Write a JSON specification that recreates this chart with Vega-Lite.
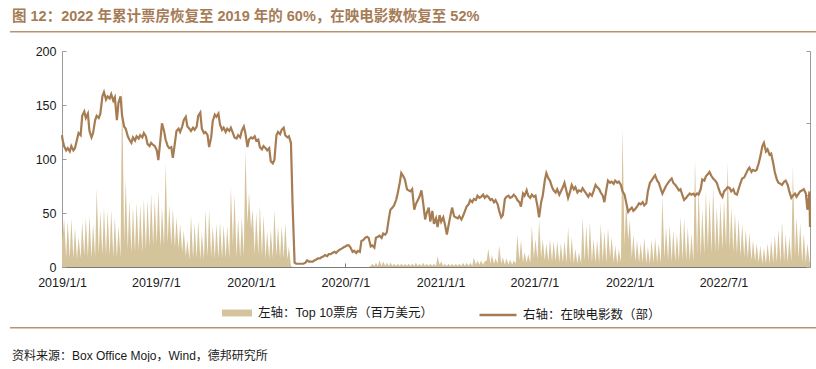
{
"$schema": "https://vega.github.io/schema/vega-lite/v6.json",
"padding": {"left": 10, "top": 8, "right": 0, "bottom": 0},
"background": "white",
"config": {
  "font": "Liberation Sans, Noto Sans CJK SC",
  "view": {"stroke": null},
  "axis": {"grid": false, "labelFont": "Liberation Sans, Noto Sans CJK SC", "labelColor": "#1a1a1a", "labelFontSize": 12.5},
  "legend": {"padding": 0}
},
"columns": 1,
"spacing": {"row": 5, "column": 0},
"concat": [
  {
    "columns": 1,
    "spacing": {"row": 12, "column": 0},
    "concat": [
      {
        "width": 806, "height": 1.6,
        "view": {"fill": "#b8956e", "stroke": null},
        "title": {"text": "图 12：2022 年累计票房恢复至 2019 年的 60%，在映电影数恢复至 52%", "anchor": "start", "frame": "group", "offset": 7, "dx": 2, "fontSize": 14.5, "fontWeight": "bold", "color": "#a57c55"},
        "data": {"values": []},
        "mark": {"type": "text"},
        "encoding": {}
      },
      {
        "width": 800, "height": 216,
        "data": {"values": [
{"d":"2019/1/1","b":53,"f":122},{"d":"2019/1/2","b":25,"f":118},{"d":"2019/1/5","b":45,"f":112},{"d":"2019/1/9","b":9,"f":108},{"d":"2019/1/12","b":43,"f":110},{"d":"2019/1/16","b":8,"f":107},{"d":"2019/1/19","b":45,"f":112},{"d":"2019/1/23","b":8,"f":108},{"d":"2019/1/26","b":36,"f":110},{"d":"2019/1/30","b":7,"f":118},{"d":"2019/2/2","b":28,"f":124},{"d":"2019/2/6","b":8,"f":122},{"d":"2019/2/9","b":42,"f":140},{"d":"2019/2/13","b":10,"f":144},{"d":"2019/2/16","b":46,"f":138},{"d":"2019/2/20","b":9,"f":142},{"d":"2019/2/23","b":48,"f":126},{"d":"2019/2/27","b":8,"f":120},{"d":"2019/3/2","b":40,"f":124},{"d":"2019/3/6","b":9,"f":136},{"d":"2019/3/9","b":73,"f":140},{"d":"2019/3/13","b":12,"f":138},{"d":"2019/3/16","b":52,"f":142},{"d":"2019/3/20","b":11,"f":158},{"d":"2019/3/23","b":55,"f":162},{"d":"2019/3/27","b":11,"f":155},{"d":"2019/3/30","b":52,"f":158},{"d":"2019/4/3","b":10,"f":156},{"d":"2019/4/6","b":53,"f":160},{"d":"2019/4/10","b":9,"f":154},{"d":"2019/4/13","b":46,"f":157},{"d":"2019/4/17","b":9,"f":136},{"d":"2019/4/20","b":38,"f":152},{"d":"2019/4/24","b":9,"f":158},{"d":"2019/4/27","b":170,"f":140},{"d":"2019/5/1","b":22,"f":130},{"d":"2019/5/4","b":81,"f":128},{"d":"2019/5/8","b":16,"f":121},{"d":"2019/5/11","b":62,"f":118},{"d":"2019/5/15","b":13,"f":115},{"d":"2019/5/18","b":55,"f":120},{"d":"2019/5/22","b":14,"f":117},{"d":"2019/5/25","b":60,"f":121},{"d":"2019/5/29","b":15,"f":119},{"d":"2019/6/1","b":58,"f":122},{"d":"2019/6/5","b":14,"f":120},{"d":"2019/6/8","b":63,"f":124},{"d":"2019/6/12","b":16,"f":121},{"d":"2019/6/15","b":62,"f":114},{"d":"2019/6/19","b":18,"f":112},{"d":"2019/6/22","b":68,"f":115},{"d":"2019/6/26","b":20,"f":113},{"d":"2019/6/29","b":63,"f":112},{"d":"2019/7/3","b":22,"f":108},{"d":"2019/7/6","b":71,"f":99},{"d":"2019/7/10","b":18,"f":118},{"d":"2019/7/13","b":55,"f":133},{"d":"2019/7/17","b":20,"f":126},{"d":"2019/7/20","b":96,"f":118},{"d":"2019/7/24","b":22,"f":112},{"d":"2019/7/27","b":58,"f":110},{"d":"2019/7/31","b":20,"f":111},{"d":"2019/8/3","b":54,"f":101},{"d":"2019/8/7","b":18,"f":115},{"d":"2019/8/10","b":46,"f":126},{"d":"2019/8/14","b":17,"f":128},{"d":"2019/8/17","b":40,"f":125},{"d":"2019/8/21","b":14,"f":130},{"d":"2019/8/24","b":34,"f":136},{"d":"2019/8/28","b":10,"f":139},{"d":"2019/8/31","b":25,"f":130},{"d":"2019/9/4","b":7,"f":128},{"d":"2019/9/7","b":48,"f":126},{"d":"2019/9/11","b":8,"f":129},{"d":"2019/9/14","b":40,"f":127},{"d":"2019/9/18","b":8,"f":130},{"d":"2019/9/21","b":43,"f":140},{"d":"2019/9/25","b":7,"f":143},{"d":"2019/9/28","b":32,"f":128},{"d":"2019/10/2","b":7,"f":124},{"d":"2019/10/5","b":53,"f":125},{"d":"2019/10/9","b":9,"f":122},{"d":"2019/10/12","b":53,"f":111},{"d":"2019/10/16","b":9,"f":120},{"d":"2019/10/19","b":38,"f":135},{"d":"2019/10/23","b":8,"f":141},{"d":"2019/10/26","b":40,"f":139},{"d":"2019/10/30","b":8,"f":142},{"d":"2019/11/2","b":42,"f":132},{"d":"2019/11/6","b":8,"f":127},{"d":"2019/11/9","b":39,"f":129},{"d":"2019/11/13","b":8,"f":125},{"d":"2019/11/16","b":38,"f":128},{"d":"2019/11/20","b":8,"f":126},{"d":"2019/11/23","b":74,"f":129},{"d":"2019/11/27","b":20,"f":124},{"d":"2019/11/30","b":67,"f":120},{"d":"2019/12/4","b":9,"f":119},{"d":"2019/12/7","b":45,"f":122},{"d":"2019/12/11","b":9,"f":120},{"d":"2019/12/14","b":46,"f":126},{"d":"2019/12/18","b":10,"f":130},{"d":"2019/12/21","b":108,"f":124},{"d":"2019/12/25","b":40,"f":111},{"d":"2019/12/28","b":69,"f":118},
{"d":"2020/1/1","b":35,"f":120},{"d":"2020/1/4","b":54,"f":119},{"d":"2020/1/8","b":12,"f":121},{"d":"2020/1/11","b":51,"f":117},{"d":"2020/1/15","b":11,"f":118},{"d":"2020/1/18","b":57,"f":111},{"d":"2020/1/22","b":10,"f":109},{"d":"2020/1/25","b":48,"f":112},{"d":"2020/1/29","b":8,"f":110},{"d":"2020/2/1","b":33,"f":108},{"d":"2020/2/5","b":7,"f":110},{"d":"2020/2/8","b":35,"f":98},{"d":"2020/2/12","b":8,"f":96},{"d":"2020/2/15","b":53,"f":99},{"d":"2020/2/19","b":10,"f":122},{"d":"2020/2/22","b":38,"f":125},{"d":"2020/2/26","b":8,"f":123},{"d":"2020/2/29","b":38,"f":127},{"d":"2020/3/4","b":8,"f":129},{"d":"2020/3/7","b":41,"f":122},{"d":"2020/3/11","b":7,"f":120},{"d":"2020/3/14","b":19,"f":121},{"d":"2020/3/18","b":1,"f":115},{"d":"2020/3/21","b":0,"f":60},{"d":"2020/3/25","b":0,"f":4},{"d":"2020/3/28","b":0,"f":3},{"d":"2020/4/1","b":0,"f":3},{"d":"2020/4/4","b":0,"f":3},{"d":"2020/4/8","b":0,"f":3},{"d":"2020/4/11","b":0,"f":3},{"d":"2020/4/15","b":0,"f":4},{"d":"2020/4/18","b":0,"f":6},{"d":"2020/4/22","b":0,"f":5},{"d":"2020/4/25","b":0,"f":5},{"d":"2020/4/29","b":0,"f":5},{"d":"2020/5/2","b":0,"f":6},{"d":"2020/5/6","b":0,"f":7},{"d":"2020/5/9","b":0,"f":8},{"d":"2020/5/13","b":0,"f":8},{"d":"2020/5/16","b":0,"f":9},{"d":"2020/5/20","b":0,"f":10},{"d":"2020/5/23","b":0,"f":11},{"d":"2020/5/27","b":0,"f":10},{"d":"2020/5/30","b":0,"f":12},{"d":"2020/6/3","b":0,"f":12},{"d":"2020/6/6","b":0,"f":13},{"d":"2020/6/10","b":0,"f":14},{"d":"2020/6/13","b":0,"f":13},{"d":"2020/6/17","b":0,"f":15},{"d":"2020/6/20","b":0,"f":16},{"d":"2020/6/24","b":0,"f":17},{"d":"2020/6/27","b":0,"f":18},{"d":"2020/7/1","b":0,"f":19},{"d":"2020/7/4","b":0,"f":20},{"d":"2020/7/8","b":0,"f":20},{"d":"2020/7/11","b":0,"f":18},{"d":"2020/7/15","b":0,"f":14},{"d":"2020/7/18","b":0,"f":15},{"d":"2020/7/22","b":0,"f":13},{"d":"2020/7/25","b":0,"f":15},{"d":"2020/7/29","b":0,"f":14},{"d":"2020/8/1","b":0,"f":24},{"d":"2020/8/5","b":0,"f":25},{"d":"2020/8/8","b":0,"f":27},{"d":"2020/8/12","b":0,"f":28},{"d":"2020/8/15","b":0,"f":27},{"d":"2020/8/19","b":1,"f":19},{"d":"2020/8/22","b":3,"f":20},{"d":"2020/8/26","b":1,"f":18},{"d":"2020/8/29","b":4,"f":27},{"d":"2020/9/2","b":1,"f":28},{"d":"2020/9/5","b":6,"f":29},{"d":"2020/9/9","b":1,"f":27},{"d":"2020/9/12","b":5,"f":31},{"d":"2020/9/16","b":1,"f":30},{"d":"2020/9/19","b":4,"f":32},{"d":"2020/9/23","b":1,"f":45},{"d":"2020/9/26","b":4,"f":53},{"d":"2020/9/30","b":1,"f":55},{"d":"2020/10/3","b":3,"f":57},{"d":"2020/10/7","b":1,"f":62},{"d":"2020/10/10","b":3,"f":68},{"d":"2020/10/14","b":1,"f":78},{"d":"2020/10/17","b":3,"f":87},{"d":"2020/10/21","b":1,"f":84},{"d":"2020/10/24","b":3,"f":81},{"d":"2020/10/28","b":1,"f":72},{"d":"2020/10/31","b":3,"f":71},{"d":"2020/11/4","b":1,"f":70},{"d":"2020/11/7","b":3,"f":72},{"d":"2020/11/11","b":1,"f":53},{"d":"2020/11/14","b":4,"f":58},{"d":"2020/11/18","b":1,"f":62},{"d":"2020/11/21","b":3,"f":65},{"d":"2020/11/25","b":1,"f":71},{"d":"2020/11/28","b":4,"f":60},{"d":"2020/12/2","b":1,"f":44},{"d":"2020/12/5","b":3,"f":50},{"d":"2020/12/9","b":1,"f":55},{"d":"2020/12/12","b":3,"f":42},{"d":"2020/12/16","b":1,"f":52},{"d":"2020/12/19","b":3,"f":40},{"d":"2020/12/23","b":1,"f":45},{"d":"2020/12/26","b":10,"f":37},{"d":"2020/12/30","b":2,"f":48},
{"d":"2021/1/2","b":5,"f":42},{"d":"2021/1/6","b":1,"f":46},{"d":"2021/1/9","b":3,"f":40},{"d":"2021/1/13","b":1,"f":30},{"d":"2021/1/16","b":3,"f":38},{"d":"2021/1/20","b":1,"f":48},{"d":"2021/1/23","b":3,"f":55},{"d":"2021/1/27","b":1,"f":47},{"d":"2021/1/30","b":3,"f":46},{"d":"2021/2/3","b":1,"f":45},{"d":"2021/2/6","b":3,"f":47},{"d":"2021/2/10","b":1,"f":44},{"d":"2021/2/13","b":4,"f":47},{"d":"2021/2/17","b":1,"f":52},{"d":"2021/2/20","b":4,"f":56},{"d":"2021/2/24","b":1,"f":58},{"d":"2021/2/27","b":4,"f":62},{"d":"2021/3/3","b":1,"f":60},{"d":"2021/3/6","b":9,"f":63},{"d":"2021/3/10","b":2,"f":62},{"d":"2021/3/13","b":6,"f":66},{"d":"2021/3/17","b":2,"f":64},{"d":"2021/3/20","b":6,"f":65},{"d":"2021/3/24","b":2,"f":67},{"d":"2021/3/27","b":5,"f":64},{"d":"2021/3/31","b":6,"f":66},{"d":"2021/4/3","b":17,"f":65},{"d":"2021/4/7","b":3,"f":62},{"d":"2021/4/10","b":11,"f":63},{"d":"2021/4/14","b":3,"f":60},{"d":"2021/4/17","b":8,"f":62},{"d":"2021/4/21","b":3,"f":58},{"d":"2021/4/24","b":20,"f":52},{"d":"2021/4/28","b":3,"f":46},{"d":"2021/5/1","b":9,"f":48},{"d":"2021/5/5","b":2,"f":63},{"d":"2021/5/8","b":8,"f":65},{"d":"2021/5/12","b":2,"f":66},{"d":"2021/5/15","b":7,"f":64},{"d":"2021/5/19","b":2,"f":65},{"d":"2021/5/22","b":6,"f":67},{"d":"2021/5/26","b":3,"f":65},{"d":"2021/5/29","b":30,"f":62},{"d":"2021/6/2","b":6,"f":60},{"d":"2021/6/5","b":25,"f":56},{"d":"2021/6/9","b":4,"f":68},{"d":"2021/6/12","b":14,"f":66},{"d":"2021/6/16","b":4,"f":71},{"d":"2021/6/19","b":12,"f":66},{"d":"2021/6/23","b":4,"f":64},{"d":"2021/6/26","b":38,"f":67},{"d":"2021/6/30","b":8,"f":65},{"d":"2021/7/3","b":26,"f":66},{"d":"2021/7/7","b":7,"f":56},{"d":"2021/7/10","b":44,"f":46},{"d":"2021/7/14","b":8,"f":60},{"d":"2021/7/17","b":26,"f":66},{"d":"2021/7/21","b":6,"f":80},{"d":"2021/7/24","b":22,"f":87},{"d":"2021/7/28","b":5,"f":82},{"d":"2021/7/31","b":26,"f":80},{"d":"2021/8/4","b":5,"f":74},{"d":"2021/8/7","b":24,"f":71},{"d":"2021/8/11","b":5,"f":69},{"d":"2021/8/14","b":24,"f":72},{"d":"2021/8/18","b":4,"f":67},{"d":"2021/8/21","b":22,"f":70},{"d":"2021/8/25","b":4,"f":74},{"d":"2021/8/28","b":24,"f":78},{"d":"2021/9/1","b":4,"f":70},{"d":"2021/9/4","b":37,"f":64},{"d":"2021/9/8","b":4,"f":70},{"d":"2021/9/11","b":28,"f":76},{"d":"2021/9/15","b":3,"f":72},{"d":"2021/9/18","b":17,"f":74},{"d":"2021/9/22","b":3,"f":69},{"d":"2021/9/25","b":14,"f":71},{"d":"2021/9/29","b":3,"f":70},{"d":"2021/10/2","b":46,"f":73},{"d":"2021/10/6","b":5,"f":70},{"d":"2021/10/9","b":38,"f":68},{"d":"2021/10/13","b":5,"f":65},{"d":"2021/10/16","b":42,"f":68},{"d":"2021/10/20","b":4,"f":66},{"d":"2021/10/23","b":26,"f":70},{"d":"2021/10/27","b":4,"f":76},{"d":"2021/10/30","b":25,"f":74},{"d":"2021/11/3","b":4,"f":72},{"d":"2021/11/6","b":40,"f":69},{"d":"2021/11/10","b":5,"f":66},{"d":"2021/11/13","b":33,"f":60},{"d":"2021/11/17","b":4,"f":72},{"d":"2021/11/20","b":36,"f":80},{"d":"2021/11/24","b":8,"f":78},{"d":"2021/11/27","b":28,"f":79},{"d":"2021/12/1","b":4,"f":77},{"d":"2021/12/4","b":20,"f":80},{"d":"2021/12/8","b":3,"f":78},{"d":"2021/12/11","b":17,"f":79},{"d":"2021/12/15","b":4,"f":76},{"d":"2021/12/18","b":128,"f":70},{"d":"2021/12/22","b":20,"f":67},{"d":"2021/12/25","b":62,"f":60},{"d":"2021/12/29","b":25,"f":51},
{"d":"2022/1/1","b":44,"f":53},{"d":"2022/1/5","b":8,"f":55},{"d":"2022/1/8","b":30,"f":52},{"d":"2022/1/12","b":5,"f":54},{"d":"2022/1/15","b":25,"f":56},{"d":"2022/1/19","b":4,"f":59},{"d":"2022/1/22","b":22,"f":58},{"d":"2022/1/26","b":4,"f":60},{"d":"2022/1/29","b":27,"f":57},{"d":"2022/2/2","b":3,"f":59},{"d":"2022/2/5","b":19,"f":70},{"d":"2022/2/9","b":3,"f":78},{"d":"2022/2/12","b":25,"f":80},{"d":"2022/2/16","b":4,"f":83},{"d":"2022/2/19","b":27,"f":85},{"d":"2022/2/23","b":4,"f":80},{"d":"2022/2/26","b":22,"f":78},{"d":"2022/3/2","b":4,"f":72},{"d":"2022/3/5","b":65,"f":68},{"d":"2022/3/9","b":8,"f":72},{"d":"2022/3/12","b":37,"f":75},{"d":"2022/3/16","b":6,"f":78},{"d":"2022/3/19","b":39,"f":80},{"d":"2022/3/23","b":5,"f":82},{"d":"2022/3/26","b":34,"f":78},{"d":"2022/3/30","b":5,"f":76},{"d":"2022/4/2","b":31,"f":74},{"d":"2022/4/6","b":5,"f":71},{"d":"2022/4/9","b":47,"f":72},{"d":"2022/4/13","b":6,"f":66},{"d":"2022/4/16","b":45,"f":62},{"d":"2022/4/20","b":6,"f":64},{"d":"2022/4/23","b":37,"f":66},{"d":"2022/4/27","b":5,"f":68},{"d":"2022/4/30","b":31,"f":67},{"d":"2022/5/4","b":5,"f":68},{"d":"2022/5/7","b":99,"f":66},{"d":"2022/5/11","b":12,"f":68},{"d":"2022/5/14","b":74,"f":67},{"d":"2022/5/18","b":10,"f":72},{"d":"2022/5/21","b":53,"f":81},{"d":"2022/5/25","b":12,"f":80},{"d":"2022/5/28","b":70,"f":84},{"d":"2022/6/1","b":16,"f":86},{"d":"2022/6/4","b":65,"f":88},{"d":"2022/6/8","b":13,"f":84},{"d":"2022/6/11","b":75,"f":82},{"d":"2022/6/15","b":14,"f":80},{"d":"2022/6/18","b":55,"f":78},{"d":"2022/6/22","b":14,"f":72},{"d":"2022/6/25","b":60,"f":68},{"d":"2022/6/29","b":16,"f":65},{"d":"2022/7/2","b":62,"f":70},{"d":"2022/7/6","b":18,"f":72},{"d":"2022/7/9","b":97,"f":74},{"d":"2022/7/13","b":16,"f":73},{"d":"2022/7/16","b":55,"f":70},{"d":"2022/7/20","b":14,"f":72},{"d":"2022/7/23","b":50,"f":68},{"d":"2022/7/27","b":12,"f":67},{"d":"2022/7/30","b":45,"f":72},{"d":"2022/8/3","b":10,"f":78},{"d":"2022/8/6","b":40,"f":82},{"d":"2022/8/10","b":9,"f":83},{"d":"2022/8/13","b":35,"f":86},{"d":"2022/8/17","b":8,"f":90},{"d":"2022/8/20","b":32,"f":92},{"d":"2022/8/24","b":6,"f":88},{"d":"2022/8/27","b":25,"f":90},{"d":"2022/8/31","b":5,"f":89},{"d":"2022/9/3","b":22,"f":90},{"d":"2022/9/7","b":4,"f":96},{"d":"2022/9/10","b":20,"f":102},{"d":"2022/9/14","b":3,"f":112},{"d":"2022/9/17","b":18,"f":115},{"d":"2022/9/21","b":3,"f":107},{"d":"2022/9/24","b":22,"f":109},{"d":"2022/9/28","b":3,"f":104},{"d":"2022/10/1","b":25,"f":105},{"d":"2022/10/5","b":4,"f":96},{"d":"2022/10/8","b":30,"f":88},{"d":"2022/10/12","b":4,"f":81},{"d":"2022/10/15","b":35,"f":78},{"d":"2022/10/19","b":4,"f":77},{"d":"2022/10/22","b":42,"f":76},{"d":"2022/10/26","b":5,"f":79},{"d":"2022/10/29","b":30,"f":80},{"d":"2022/11/2","b":4,"f":76},{"d":"2022/11/5","b":28,"f":70},{"d":"2022/11/9","b":5,"f":64},{"d":"2022/11/12","b":93,"f":66},{"d":"2022/11/16","b":10,"f":68},{"d":"2022/11/19","b":46,"f":65},{"d":"2022/11/23","b":8,"f":68},{"d":"2022/11/26","b":40,"f":70},{"d":"2022/11/30","b":4,"f":71},{"d":"2022/12/3","b":31,"f":72},{"d":"2022/12/7","b":4,"f":68},{"d":"2022/12/10","b":22,"f":53},{"d":"2022/12/14","b":5,"f":70},{"d":"2022/12/15","b":4,"f":37}
        ]},
        "encoding": {
          "x": {"field": "d", "type": "temporal",
            "scale": {"domain": [{"year": 2019, "month": 1, "date": 1}, {"year": 2022, "month": 12, "date": 15}], "range": [52, 800]},
            "axis": {"title": null, "format": "%Y/%-m/%-d", "values": [{"year": 2019, "month": 1, "date": 1}, {"year": 2019, "month": 7, "date": 1}, {"year": 2020, "month": 1, "date": 1}, {"year": 2020, "month": 7, "date": 1}, {"year": 2021, "month": 1, "date": 1}, {"year": 2021, "month": 7, "date": 1}, {"year": 2022, "month": 1, "date": 1}, {"year": 2022, "month": 7, "date": 1}], "tickSize": -4, "labelPadding": 13, "domainColor": "#7a7a7a", "tickColor": "#7a7a7a", "labelFlush": false, "labelOverlap": false}}
        },
        "layer": [
          {
            "mark": {"type": "area", "interpolate": "linear"},
            "encoding": {
              "y": {"field": "b", "type": "quantitative", "scale": {"domain": [0, 200], "nice": false},
                "axis": {"orient": "left", "offset": -52, "title": null, "values": [0, 50, 100, 150, 200], "tickSize": -4, "labelPadding": 10, "domainColor": "#9a9a9a", "tickColor": "#9a9a9a"}},
              "fill": {"datum": "左轴：Top 10票房（百万美元）", "scale": {"range": ["#d5c39c"]},
                "legend": {"orient": "none", "legendX": 212, "legendY": 247, "title": null, "symbolType": "M-1,-0.23H1V0.23H-1Z", "symbolSize": 900, "symbolStrokeWidth": 0, "labelFontSize": 12.5, "labelOffset": 6, "labelColor": "#1a1a1a", "labelLimit": 400}}
            }
          },
          {
            "mark": {"type": "line", "strokeWidth": 2.2},
            "encoding": {
              "y": {"field": "f", "type": "quantitative", "scale": {"domain": [0, 200], "nice": false},
                "axis": {"orient": "right", "title": null, "labels": false, "values": [0, 66.667, 133.333, 200], "tickSize": -4, "domainColor": "#9a9a9a", "tickColor": "#9a9a9a"}},
              "stroke": {"datum": "右轴：在映电影数（部）", "scale": {"range": ["#a67c52"]},
                "legend": {"orient": "none", "legendX": 468, "legendY": 244, "title": null, "symbolType": "stroke", "symbolSize": 1369, "symbolStrokeWidth": 2.5, "labelFontSize": 12.5, "labelOffset": 5, "labelColor": "#1a1a1a", "labelLimit": 400}}
            }
          }
        ],
        "resolve": {"scale": {"y": "independent", "fill": "independent", "stroke": "independent"}}
      }
    ]
  },
  {
    "width": 806, "height": 1.6,
    "view": {"fill": "#b8956e", "stroke": null},
    "title": {"text": "资料来源：Box Office Mojo，Wind，德邦研究所", "orient": "bottom", "anchor": "start", "frame": "group", "offset": 22, "dx": 2, "fontSize": 12, "fontWeight": "normal", "color": "#1a1a1a"},
    "data": {"values": []},
    "mark": {"type": "text"},
    "encoding": {}
  }
]
}
